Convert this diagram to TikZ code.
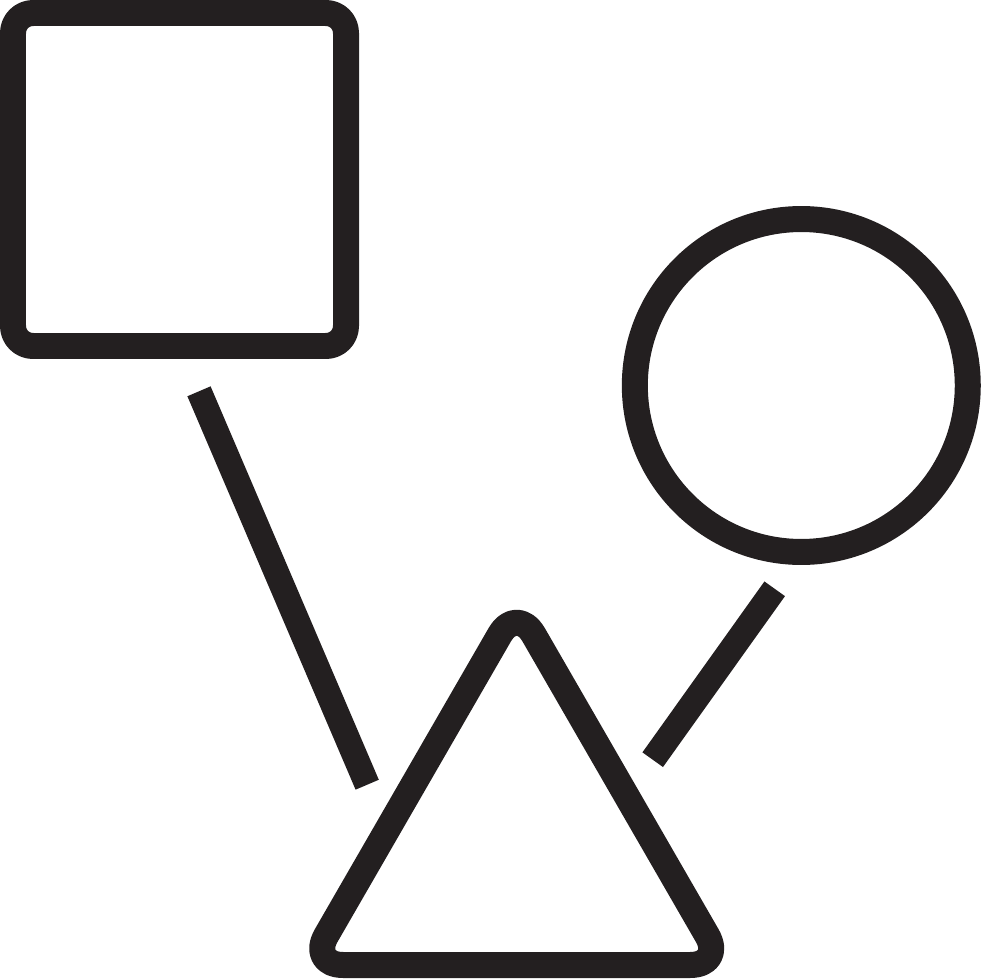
\documentclass[tikz,border=0pt]{standalone}
\definecolor{ink}{HTML}{231F20}
\begin{document}
\begin{tikzpicture}[x=0.02cm,y=-0.02cm,
  shapeline/.style={draw=ink, line width=0.52cm, line join=round},
  link/.style={draw=ink, line width=0.505cm}]
\useasboundingbox (0,0) rectangle (981,980);
% rounded square
\draw[shapeline, rounded corners=0.4cm] (13,13) rectangle (346,346);
% circle
\coordinate (cc) at (801.3,385.5);
\draw[shapeline] (cc) circle[radius=3.33cm];
% rounded triangle
\coordinate (ta) at (516.7,605.4);
\coordinate (tr) at (724.2,965);
\coordinate (tl) at (309.2,965);
\draw[shapeline, rounded corners=0.68cm] (ta) -- (tr) -- (tl) -- cycle;
% connectors
\coordinate (l1a) at (199,391.3);
\coordinate (l1b) at (367.2,784.7);
\coordinate (l2a) at (774.7,588.8);
\coordinate (l2b) at (652.7,759.7);
\draw[link] (l1a) -- (l1b);
\draw[link] (l2a) -- (l2b);
\end{tikzpicture}
\end{document}
